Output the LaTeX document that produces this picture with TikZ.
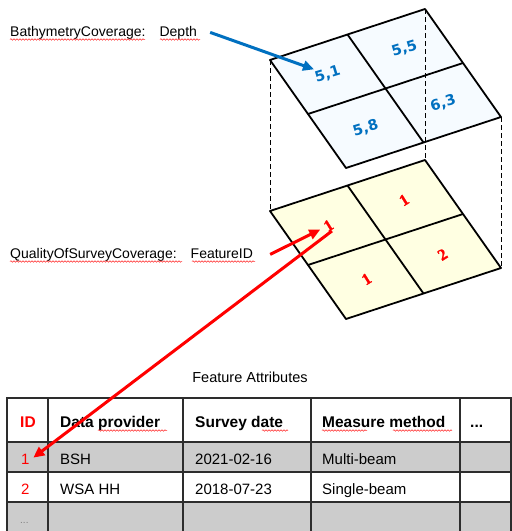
\documentclass[tikz,border=0pt]{standalone}
\usepackage{fontspec}
\setmainfont{Liberation Sans}
\newfontfamily\depthfont{DejaVu Sans}
\newfontfamily\idfont{Liberation Serif}[BoldFont={Liberation Serif Bold},BoldFeatures={FakeBold=1.5}]
\usetikzlibrary{arrows.meta}
\usetikzlibrary{decorations.pathmorphing}

\definecolor{depthblue}{RGB}{0,112,192}
\definecolor{waterfill}{RGB}{246,251,255}
\definecolor{qualityfill}{RGB}{255,255,226}
\definecolor{rowgray}{RGB}{204,204,204}
\definecolor{tableline}{RGB}{45,45,45}

\begin{document}
\begin{tikzpicture}[x=1pt,y=-1pt,
	coverlabel/.style={anchor=base west,inner sep=0pt,font=\fontsize{14}{16}\selectfont},
	cellval/.style={rotate=17,inner sep=1pt,text=depthblue,font=\depthfont\bfseries\fontsize{14.5}{15}\selectfont},
	cellid/.style={rotate=32,inner sep=1pt,text=red,font=\idfont\bfseries\fontsize{16}{16}\selectfont},
	gridline/.style={line width=1.8pt,line join=round},
	dropline/.style={dash pattern=on 5pt off 3pt,line width=0.8pt},
	depthArrow/.style={draw=depthblue,line width=3pt,-{Triangle[length=11pt,width=10pt]},shorten >=2pt},
	idArrow/.style={draw=red,line width=3pt,-{Triangle[length=11pt,width=10pt]},shorten >=2pt},
	spellmark/.style={draw=red!85,line width=0.5pt,decorate,decoration={snake,amplitude=0.8pt,segment length=3pt}},
	tabletext/.style={anchor=base west,inner sep=2pt,font=\fontsize{15}{17}\selectfont},
	tablehead/.style={tabletext,font=\bfseries\fontsize{15.5}{17}\selectfont},
	tablerule/.style={draw=tableline,line width=1.6pt}]
		\useasboundingbox (0,0) rectangle (512,531);

		% coverages
		\fill[waterfill] (270,60) -- (425,9) -- (501,117) -- (346,168) -- cycle;
		\fill[qualityfill] (270,211) -- (425,160) -- (501,268) -- (346,319) -- cycle;
		\draw[dropline] (270,60) -- (270,211);
		\draw[dropline] (425,9) -- (425,160);
		\draw[dropline] (501,117) -- (501,268);
		\draw[gridline] (270,60) -- (425,9) -- (501,117) -- (346,168) -- cycle;
		\draw[gridline] (347.5,34.5) -- (423.5,142.5);
		\draw[gridline] (308,114) -- (463,63);
		\draw[gridline] (270,211) -- (425,160) -- (501,268) -- (346,319) -- cycle;
		\draw[gridline] (347.5,185.5) -- (423.5,293.5);
		\draw[gridline] (308,265) -- (463,214);

		\draw (327.75,74.25) 	node (d51) [cellval] {5,1};
		\draw (404.5,49) 	node (d55) [cellval] {5,5};
		\draw (365.75,128.25) 	node (d58) [cellval] {5,8};
		\draw (443.25,103.5) 	node (d63) [cellval] {6,3};
		\draw (328.5,225.5) 	node (q1) [cellid] {1};
		\draw (404,200) 	node (q2) [cellid] {1};
		\draw (366.5,279) 	node (q3) [cellid] {1};
		\draw (442.5,254.5) 	node (q4) [cellid] {2};

		\draw (10,36) 	node (bathy) [coverlabel] {BathymetryCoverage:\quad Depth};
		\draw (10,258) 	node (quality) [coverlabel] {QualityOfSurveyCoverage:\quad FeatureID};
		\draw[spellmark] (10,39.5) -- (145,39.5);
		\draw[spellmark] (160,39.5) -- (200,39.5);
		\draw[spellmark] (10,261.5) -- (182,261.5);
		\draw[spellmark] (192,261.5) -- (255,261.5);

		% feature table
		\draw (250,382.5) node (fa) [anchor=base,font=\fontsize{14.5}{16}\selectfont] {Feature Attributes};
		\fill[rowgray] (7,442) rectangle (511,472);
		\fill[rowgray] (7,502) rectangle (511,531);
		\draw[tablerule] (7,531) -- (7,398) -- (511,398) -- (511,531);
		\draw[tablerule] (48,398) -- (48,531);
		\draw[tablerule] (183,398) -- (183,531);
		\draw[tablerule] (311,398) -- (311,531);
		\draw[tablerule] (460,398) -- (460,531);
		\draw[tablerule] (7,472) -- (511,472);
		\draw[tablerule] (7,502) -- (511,502);
		\draw[tablerule,line width=2.8pt] (7,442) -- (511,442);

		\draw (18,427) 	node (hid) [tablehead,text=red] {ID};
		\draw (58,427) 	node (hprov) [tablehead] {Data provider};
		\draw (193,427) 	node (hdate) [tablehead] {Survey date};
		\draw (320,427) 	node (hmeth) [tablehead] {Measure method};
		\draw (468,427) 	node (hmore) [tablehead] {...};
		\draw[spellmark] (98,430.5) -- (167,430.5);
		\draw[spellmark] (262,430.5) -- (288,430.5);
		\draw[spellmark] (322,430.5) -- (367,430.5);
		\draw[spellmark] (393,430.5) -- (452,430.5);

		\draw (19,464) 	node (id1) [tabletext,text=red] {1};
		\draw (58,464) 	node (prov1) [tabletext] {BSH};
		\draw (193,464) 	node (date1) [tabletext] {2021-02-16};
		\draw (320,464) 	node (meth1) [tabletext] {Multi-beam};
		\draw (19,494) 	node (id2) [tabletext,text=red] {2};
		\draw (58,494) 	node (prov2) [tabletext] {WSA HH};
		\draw (193,494) 	node (date2) [tabletext] {2018-07-23};
		\draw (320,494) 	node (meth2) [tabletext] {Single-beam};
		\draw (18,523) 	node (idmore) [tabletext,text=gray,font=\fontsize{10}{12}\selectfont] {...};

		% pointers
		\draw[depthArrow] ([xshift=13pt]bathy.east) -- (d51);
		\draw[idArrow,shorten >=4pt] ([xshift=17pt]quality.east) -- (q1);
		\draw[idArrow] (q1.south) -- (id1.east);
\end{tikzpicture}
\end{document}
